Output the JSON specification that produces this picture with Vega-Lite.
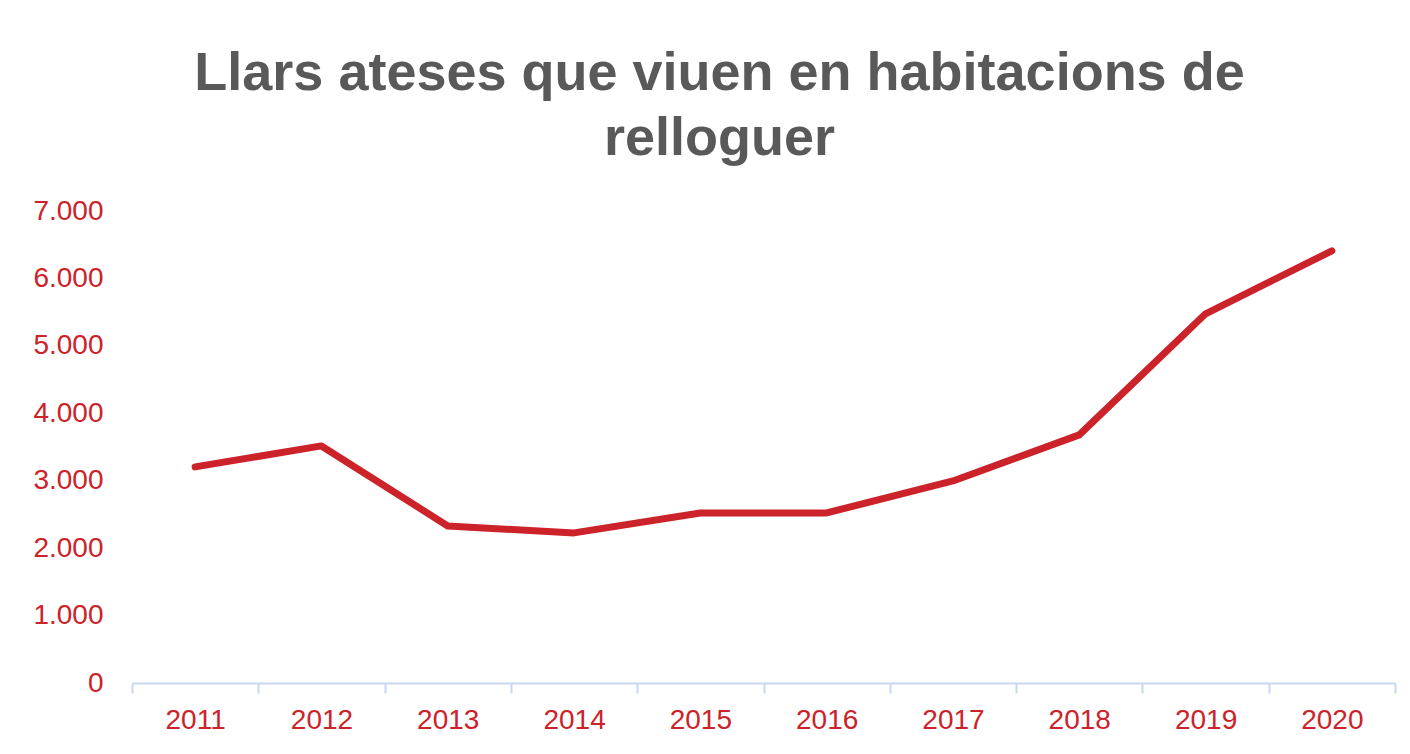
{
  "$schema": "https://vega.github.io/schema/vega-lite/v6.json",
  "width": 1263,
  "height": 472,
  "autosize": {"type": "none"},
  "padding": {"left": 132, "top": 211, "right": 15, "bottom": 71},
  "background": "white",
  "config": {
    "view": {"stroke": null},
    "font": "Liberation Sans"
  },
  "title": {
    "text": ["Llars ateses que viuen en habitacions de", "relloguer"],
    "anchor": "middle",
    "frame": "group",
    "dx": -44,
    "dy": 67,
    "baseline": "bottom",
    "offset": 44,
    "lineHeight": 65,
    "fontSize": 54,
    "fontWeight": "bold",
    "color": "#595959",
    "font": "Liberation Sans"
  },
  "data": {
    "values": [
      {"year": "2011", "households": 3205},
      {"year": "2012", "households": 3516},
      {"year": "2013", "households": 2329},
      {"year": "2014", "households": 2226},
      {"year": "2015", "households": 2522},
      {"year": "2016", "households": 2522},
      {"year": "2017", "households": 2997},
      {"year": "2018", "households": 3680},
      {"year": "2019", "households": 5475},
      {"year": "2020", "households": 6409}
    ]
  },
  "mark": {"type": "line", "color": "#cc2229", "strokeWidth": 7, "strokeCap": "round", "strokeJoin": "round"},
  "encoding": {
    "x": {
      "field": "year",
      "type": "ordinal",
      "scale": {"type": "band", "paddingInner": 0, "paddingOuter": 0},
      "axis": {
        "title": null,
        "labelAngle": 0,
        "tickBand": "extent",
        "domainColor": "#c6d9f0",
        "domainWidth": 2,
        "tickColor": "#c6d9f0",
        "tickWidth": 2,
        "tickSize": 10,
        "labelPadding": 13,
        "labelColor": "#cc2229",
        "labelFontSize": 28,
        "labelFont": "Liberation Sans"
      }
    },
    "y": {
      "field": "households",
      "type": "quantitative",
      "scale": {"domain": [0, 7000], "nice": false},
      "axis": {
        "title": null,
        "values": [0, 1000, 2000, 3000, 4000, 5000, 6000, 7000],
        "grid": false,
        "domain": false,
        "ticks": false,
        "labelPadding": 29,
        "labelColor": "#cc2229",
        "labelFontSize": 28,
        "labelFont": "Liberation Sans",
        "labelExpr": "replace(format(datum.value, ','), ',', '.')"
      }
    }
  }
}
